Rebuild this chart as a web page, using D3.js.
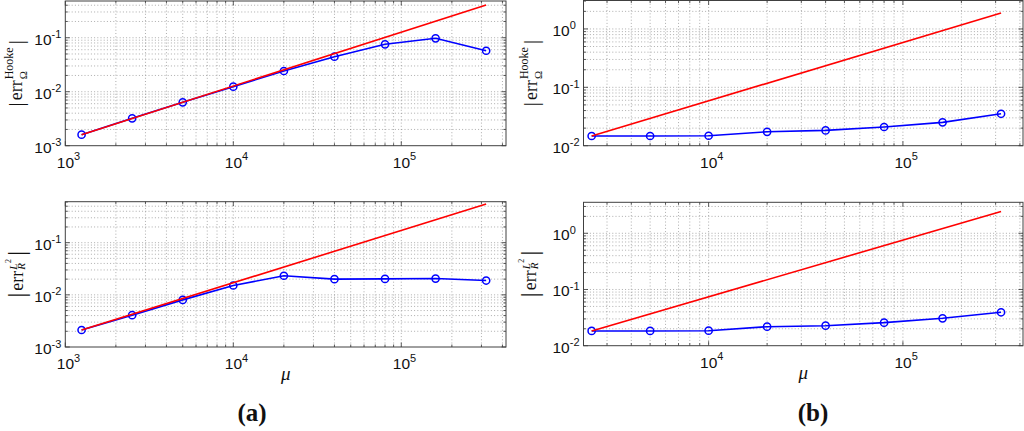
<!DOCTYPE html>
<html>
<head>
<meta charset="utf-8">
<script src="https://cdn.jsdelivr.net/npm/d3@7"></script>
<style>
  html, body { margin: 0; padding: 0; background: #fff; }
  svg { display: block; }
</style>
</head>
<body>
<svg id="chart" width="1024" height="431"></svg>
<script>
// ---------------- DATA ----------------
const muA = [1250, 2500, 5000, 10000, 20000, 40000, 80000, 160000, 320000];
const muB = [2500, 5000, 10000, 20000, 40000, 80000, 160000, 320000];

const hookeA = [0.0016, 0.00321, 0.00636, 0.0124, 0.0242, 0.0445, 0.0755, 0.0975, 0.0574];
const l2A    = [0.00212, 0.00407, 0.0080, 0.0151, 0.0232, 0.0200, 0.0202, 0.0205, 0.0188];
const hookeB = [0.01465, 0.01465, 0.0148, 0.0173, 0.0183, 0.0209, 0.0251, 0.0352];
const l2B    = [0.0183, 0.0183, 0.0185, 0.0218, 0.0227, 0.0257, 0.0307, 0.0393];

// reference lines (slope-one guides), endpoints
const refMuA = [1250, 320000];
const refMuB = [2500, 320000];
const refHookeA = [0.0016, 0.405];
const refL2A    = [0.00212, 0.55];
const refHookeB = [0.01465, 1.88];
const refL2B    = [0.0183, 2.45];

const xDomainA = [1000, 4.2e5];
const xDomainB = [2270, 4.15e5];
const yDomainHookeA = [1e-3, 0.479];
const yDomainL2A    = [1e-3, 0.61];
const yDomainHookeB = [1e-2, 3.07];
const yDomainL2B    = [1e-2, 3.56];

const panelLetters = ["(a)", "(b)"];
const xAxisLabel = "μ";

// ---------------- LAYOUT ----------------
const svg = d3.select("#chart");
const panels = [
  {x0: 65.3, x1: 506, y0: 1, y1: 145.7, xd: xDomainA, yd: yDomainHookeA, mu: muA, err: hookeA, rmu: refMuA, ref: refHookeA, label: "hooke", lx: 22, xl: false},
  {x0: 65.3, x1: 506, y0: 201.7, y1: 347, xd: xDomainA, yd: yDomainL2A, mu: muA, err: l2A, rmu: refMuA, ref: refL2A, label: "l2", lx: 23, xl: true},
  {x0: 583.5, x1: 1023, y0: 0.5, y1: 145.7, xd: xDomainB, yd: yDomainHookeB, mu: muB, err: hookeB, rmu: refMuB, ref: refHookeB, label: "hooke", lx: 537, xl: false},
  {x0: 583.5, x1: 1023, y0: 202.3, y1: 345.7, xd: xDomainB, yd: yDomainL2B, mu: muB, err: l2B, rmu: refMuB, ref: refL2B, label: "l2", lx: 536, xl: true}
];

function logTicks(dom) {
  const lo = dom[0], hi = dom[1];
  const out = [];
  for (let d = Math.floor(Math.log10(lo)); d <= Math.ceil(Math.log10(hi)); d++) {
    for (let k = 1; k <= 9; k++) {
      const v = k * Math.pow(10, d);
      if (v >= lo * 0.9999 && v <= hi * 1.0001) out.push({v, major: k === 1, d});
    }
  }
  return out;
}

const sansFont = "Liberation Sans, Arial, Helvetica, sans-serif";
const serifFont = "Liberation Serif, Times New Roman, serif";

function drawPanel(p) {
  const x = d3.scaleLog().domain(p.xd).range([p.x0, p.x1]);
  const y = d3.scaleLog().domain(p.yd).range([p.y1, p.y0]);
  const g = svg.append("g");

  const xt = logTicks(p.xd), yt = logTicks(p.yd);

  // grid
  const grid = g.append("g").attr("stroke", "#8a8a8a").attr("stroke-width", 0.7)
    .attr("stroke-dasharray", "1,2.2").attr("fill", "none");
  xt.forEach(t => {
    const px = x(t.v);
    if (px < p.x0 + 1 || px > p.x1 - 1) return;
    grid.append("line").attr("x1", px).attr("x2", px).attr("y1", p.y0).attr("y2", p.y1);
  });
  yt.forEach(t => {
    const py = y(t.v);
    if (py < p.y0 + 1 || py > p.y1 - 1) return;
    grid.append("line").attr("y1", py).attr("y2", py).attr("x1", p.x0).attr("x2", p.x1);
  });

  // ticks (inward, all sides)
  const ticks = g.append("g").attr("stroke", "#333").attr("stroke-width", 0.8);
  xt.forEach(t => {
    const px = x(t.v), L = t.major ? 4.5 : 2.5;
    ticks.append("line").attr("x1", px).attr("x2", px).attr("y1", p.y1).attr("y2", p.y1 - L);
    ticks.append("line").attr("x1", px).attr("x2", px).attr("y1", p.y0).attr("y2", p.y0 + L);
  });
  yt.forEach(t => {
    const py = y(t.v), L = t.major ? 4.5 : 2.5;
    ticks.append("line").attr("y1", py).attr("y2", py).attr("x1", p.x0).attr("x2", p.x0 + L);
    ticks.append("line").attr("y1", py).attr("y2", py).attr("x1", p.x1).attr("x2", p.x1 - L);
  });

  // box
  g.append("rect").attr("x", p.x0).attr("y", p.y0).attr("width", p.x1 - p.x0).attr("height", p.y1 - p.y0)
    .attr("fill", "none").attr("stroke", "#404040").attr("stroke-width", 1);

  // x tick labels
  xt.filter(t => t.major).forEach(t => {
    const px = x(t.v);
    const tx = g.append("text").attr("x", px - 8.5).attr("y", p.y1 + 22)
      .attr("font-family", sansFont).attr("font-size", 15.5).attr("fill", "#111");
    tx.append("tspan").text("10");
    tx.append("tspan").attr("font-size", 11).attr("dy", -7.5).text(String(t.d));
  });
  // y tick labels
  yt.filter(t => t.major).forEach(t => {
    const py = y(t.v);
    const tx = g.append("text").attr("x", p.x0 - 31).attr("y", py + 7)
      .attr("font-family", sansFont).attr("font-size", 15.5).attr("fill", "#111");
    tx.append("tspan").text("10");
    tx.append("tspan").attr("font-size", 11).attr("dy", -6.5).text(String(t.d));
  });

  // data line (blue) with markers
  const line = d3.line().x(d => x(d[0])).y(d => y(d[1]));
  const pts = p.mu.map((m, i) => [m, p.err[i]]);
  g.append("path").attr("d", line(pts)).attr("fill", "none").attr("stroke", "#0000ff").attr("stroke-width", 1.6);
  g.selectAll(null).data(pts).enter().append("circle")
    .attr("cx", d => x(d[0])).attr("cy", d => y(d[1])).attr("r", 3.6)
    .attr("fill", "none").attr("stroke", "#0000ff").attr("stroke-width", 1.5);

  // reference line (red)
  const rpts = p.rmu.map((m, i) => [m, p.ref[i]]);
  g.append("path").attr("d", line(rpts)).attr("fill", "none").attr("stroke", "#ff0000").attr("stroke-width", 1.6);

  // y label
  drawYLabel(p.label, p.lx, (p.y0 + p.y1) / 2);

  // x label
  if (p.xl) {
    svg.append("text").attr("x", (p.x0 + p.x1) / 2).attr("y", p.y1 + 33)
      .attr("text-anchor", "middle").attr("font-family", serifFont).attr("font-style", "italic")
      .attr("font-size", 19).attr("fill", "#111").text(xAxisLabel);
  }
}

function drawYLabel(kind, bx, cy) {
  const outer = svg.append("g").attr("transform", `translate(${bx},${cy}) rotate(-90)`);
  const g = outer.append("g");
  const mk = (txt, size, xx, yy, italic) => {
    const t = g.append("text").attr("x", xx).attr("y", yy).attr("font-family", serifFont)
      .attr("font-size", size).attr("fill", "#111").text(txt);
    if (italic) t.attr("font-style", "italic");
    return t;
  };
  let cx = 0;
  if (kind === "hooke") {
    const b1 = mk("|", 21, cx, 0.5); cx += b1.node().getComputedTextLength() + 2;
    const e = mk("err", 18, cx, 0); cx += e.node().getComputedTextLength() + 1;
    const sp = mk("Hooke", 12, cx, -9);
    const sb = mk("Ω", 11, cx, 5);
    cx += Math.max(sp.node().getComputedTextLength(), sb.node().getComputedTextLength()) + 3;
    const b2 = mk("|", 21, cx, 0.5); cx += b2.node().getComputedTextLength();
  } else {
    const b1 = mk("|", 26, cx, 1.5); cx += b1.node().getComputedTextLength() + 2;
    const e = mk("err", 18, cx, 0); cx += e.node().getComputedTextLength() + 1;
    const L = mk("L", 11, cx, -6.5, true);
    const lw = L.node().getComputedTextLength();
    const two = mk("2", 8, cx + lw + 0.5, -12.5);
    const tw = two.node().getComputedTextLength();
    const R = mk("R", 11, cx, 2, true);
    cx += Math.max(lw + 0.5 + tw, R.node().getComputedTextLength()) + 3;
    const b2 = mk("|", 26, cx, 1.5); cx += b2.node().getComputedTextLength();
  }
  g.attr("transform", `translate(${-cx / 2},0)`);
}

panels.forEach(drawPanel);

// panel letters
svg.append("text").attr("x", 252).attr("y", 421).attr("text-anchor", "middle")
  .attr("font-family", serifFont).attr("font-weight", "bold").attr("font-size", 25).attr("fill", "#111")
  .text(panelLetters[0]);
svg.append("text").attr("x", 813).attr("y", 421).attr("text-anchor", "middle")
  .attr("font-family", serifFont).attr("font-weight", "bold").attr("font-size", 25).attr("fill", "#111")
  .text(panelLetters[1]);
</script>
</body>
</html>
